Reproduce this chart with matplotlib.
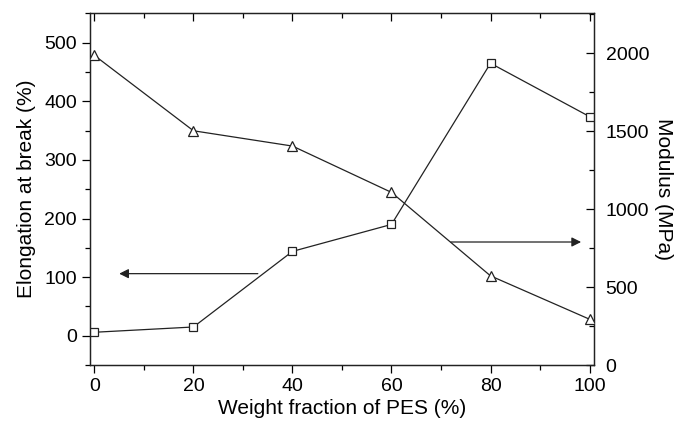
#!/usr/bin/env python3
"""Elongation at break and modulus vs weight fraction of PES."""
import matplotlib
matplotlib.use("Agg")
import matplotlib.pyplot as plt
from matplotlib.ticker import MultipleLocator

plt.rcParams["font.family"] = ["Liberation Sans", "DejaVu Sans"]
plt.rcParams["font.size"] = 15

# data
pes_fraction = [0, 20, 40, 60, 80, 100]
elongation = [6, 15, 144, 190, 465, 374]          # %, left axis (squares)
modulus = [1985, 1502, 1404, 1107, 572, 294]      # MPa, right axis (triangles)

fig = plt.figure(figsize=(6.74, 4.28), dpi=100)
ax = fig.add_axes([0.1335, 0.147, 0.7485, 0.823])
ax2 = ax.twinx()

ax.plot(pes_fraction, elongation, "s-", color="#222222", lw=0.9,
        ms=6, mfc="white", mec="#222222", mew=0.9, zorder=3)
ax2.plot(pes_fraction, modulus, "^-", color="#222222", lw=0.9,
         ms=7, mfc="white", mec="#222222", mew=0.9, zorder=3)

ax.set_xlim(-0.9, 101)
ax.set_ylim(-50, 551)
ax2.set_ylim(0, 2258)

ax.xaxis.set_major_locator(MultipleLocator(20))
ax.xaxis.set_minor_locator(MultipleLocator(10))
ax.yaxis.set_major_locator(MultipleLocator(100))
ax.yaxis.set_minor_locator(MultipleLocator(50))
ax2.yaxis.set_major_locator(MultipleLocator(500))
ax2.yaxis.set_minor_locator(MultipleLocator(250))

ax.tick_params(axis="x", which="both", direction="out", top=True)
ax.tick_params(axis="y", which="both", direction="out", right=False)
ax.tick_params(which="major", length=6, width=0.9, labelsize=14)
ax.tick_params(which="minor", length=3.5, width=0.9)
# top mirrored ticks point inward
for t in ax.xaxis.get_major_ticks() + ax.xaxis.get_minor_ticks():
    t.tick2line.set_marker(3)
ax2.tick_params(axis="y", which="both", direction="in")
ax2.tick_params(which="major", length=6, width=0.9, pad=8, labelsize=14)
ax2.tick_params(which="minor", length=3.5, width=0.9)

for a in (ax, ax2):
    for s in a.spines.values():
        s.set_linewidth(0.9)
        s.set_color("#222222")

ax.set_xlabel("Weight fraction of PES (%)", labelpad=3)
ax.set_ylabel("Elongation at break (%)", labelpad=6)
ax2.set_ylabel("Modulus (MPa)", rotation=-90, ha="center", va="center")
ax2.yaxis.set_label_coords(1.137, 0.5)

arrow = dict(arrowstyle="-|>", color="#222222", lw=0.9,
             mutation_scale=14, shrinkA=0, shrinkB=0)
ax.annotate("", xy=(5, 106), xytext=(33, 106), arrowprops=arrow)
ax.annotate("", xy=(98.3, 160), xytext=(72, 160), arrowprops=arrow)

fig.savefig("out.png", dpi=100)
